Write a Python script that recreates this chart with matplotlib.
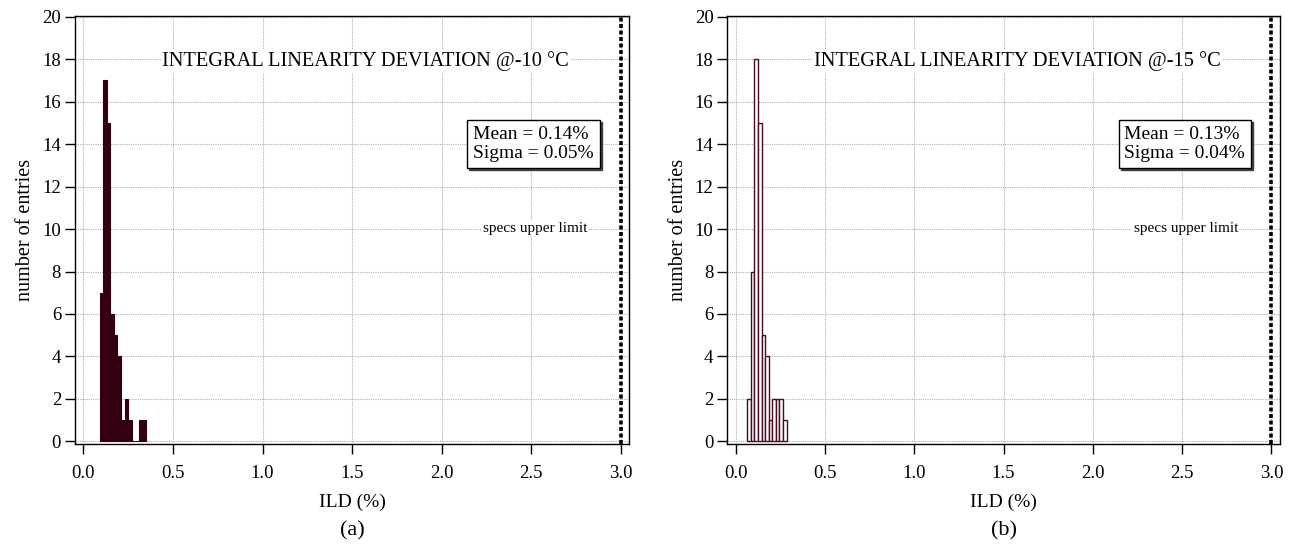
import matplotlib
matplotlib.use("Agg")
import matplotlib.pyplot as plt
import matplotlib.transforms as mtransforms

plt.rcParams["font.family"] = ["Liberation Serif", "DejaVu Serif"]

# histogram data (left bin edges, counts), bin width 0.02 %
BIN_W = 0.02
edges_a  = [0.09, 0.11, 0.13, 0.15, 0.17, 0.19, 0.21, 0.23, 0.25, 0.27, 0.29, 0.31, 0.33]
counts_a = [7, 17, 15, 6, 5, 4, 1, 2, 1, 0, 0, 1, 1]
edges_b  = [0.065, 0.085, 0.105, 0.125, 0.145, 0.165, 0.185, 0.205, 0.225, 0.245, 0.265]
counts_b = [2, 8, 18, 15, 5, 4, 1, 2, 2, 2, 1]

titles  = ["INTEGRAL LINEARITY DEVIATION @-10 °C", "INTEGRAL LINEARITY DEVIATION @-15 °C"]
stats   = ["Mean = 0.14%\nSigma = 0.05%", "Mean = 0.13%\nSigma = 0.04%"]
labels  = ["(a)", "(b)"]
SPEC_LIMIT = 3.0
XTICKS = [0.0, 0.5, 1.0, 1.5, 2.0, 2.5, 3.0]
YTICKS = list(range(0, 21, 2))

FILL = "#33000f"
EDGE = "#4a0a1f"

fig = plt.figure(figsize=(12.93, 5.44), dpi=100)
ax_a = fig.add_axes([0.058, 0.1832, 0.4287, 0.7879])
ax_b = fig.add_axes([0.5625, 0.1832, 0.4275, 0.7879])

ax_a.bar(edges_a, counts_a, width=BIN_W, align="edge",
         facecolor=FILL, edgecolor=FILL, linewidth=0.8, zorder=3)
ax_b.bar(edges_b, counts_b, width=BIN_W, align="edge",
         facecolor="white", edgecolor=EDGE, linewidth=1.0, zorder=3)

for ax, title, stat, lab in zip([ax_a, ax_b], titles, stats, labels):
    ax.set_xlim(-0.047, 3.048)
    ax.set_ylim(-0.14, 20.05)
    ax.set_xticks(XTICKS)
    ax.set_xticklabels([f"{t:.1f}" for t in XTICKS])
    ax.set_yticks(YTICKS)
    ax.tick_params(direction="out", length=7, width=1, labelsize=13.5)
    ax.tick_params(axis="x", pad=8)
    ax.tick_params(axis="y", pad=3)
    ax.grid(True, color="#b0b0b0", linestyle=(0, (1, 1)), linewidth=0.8, zorder=0)
    ax.set_axisbelow(True)
    for sp in ax.spines.values():
        sp.set_linewidth(1.0)

    ax.axvline(SPEC_LIMIT, color="black", linewidth=2.6,
               linestyle=(0, (1.1, 0.7)), zorder=4)

    ax.text(1.575, 17.9, title, ha="center", va="center", fontsize=14.7,
            bbox=dict(facecolor="white", edgecolor="none", pad=1), zorder=5)
    ax.text(2.52, 10.05, "specs upper limit", ha="center", va="center",
            fontsize=11, bbox=dict(facecolor="white", edgecolor="none", pad=1),
            zorder=5)

    # stats box with drop shadow
    shadow = mtransforms.offset_copy(ax.transData, fig=fig, x=2, y=-2, units="dots")
    box = "square,pad=0.3"
    ax.text(2.176, 14.0, stat, ha="left", va="center", fontsize=14,
            linespacing=1.15, color="#404040", transform=shadow,
            bbox=dict(facecolor="#404040", edgecolor="#404040", boxstyle=box),
            zorder=5)
    ax.text(2.176, 14.0, stat, ha="left", va="center", fontsize=14,
            linespacing=1.15,
            bbox=dict(facecolor="white", edgecolor="black", linewidth=1,
                      boxstyle=box), zorder=6)

    ax.set_xlabel("ILD (%)", fontsize=14, labelpad=8)
    ax.set_ylabel("number of entries", fontsize=14.5, labelpad=5)
    ax.text(0.5, -0.201, lab, transform=ax.transAxes, ha="center", va="center",
            fontsize=16)

fig.savefig("out.png", dpi=100)
